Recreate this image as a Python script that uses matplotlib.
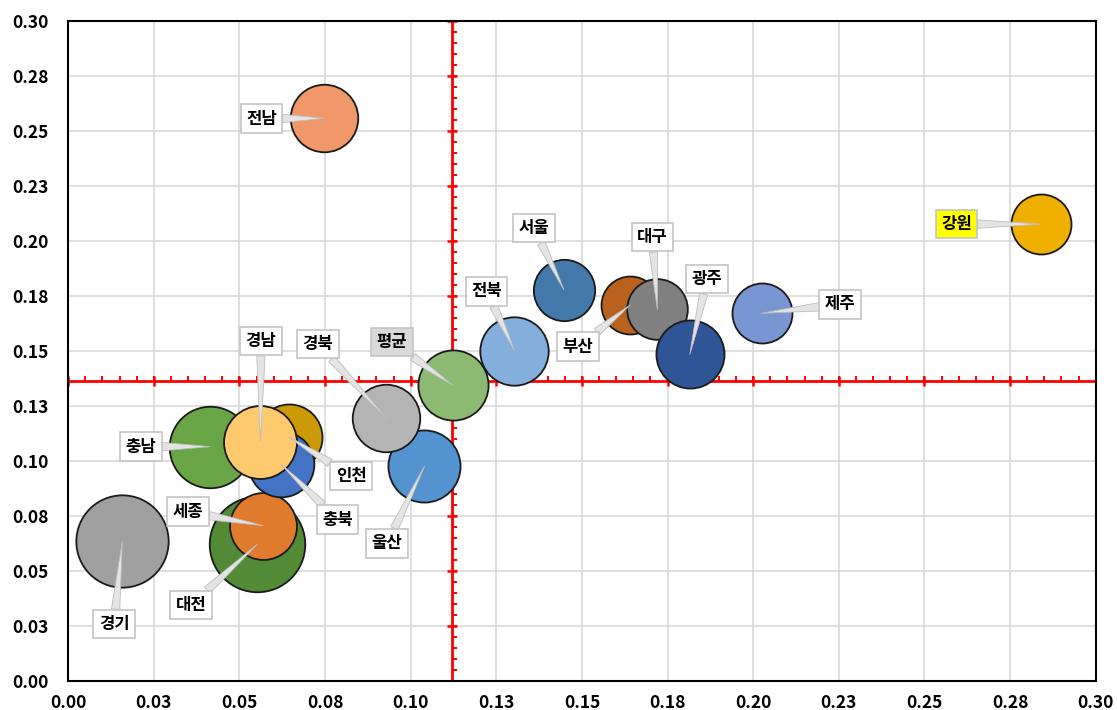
import numpy as np
import matplotlib
matplotlib.use("Agg")
import matplotlib.pyplot as plt

plt.rcParams['font.family'] = ['Noto Sans CJK KR', 'DejaVu Sans']

# Regions: x value, y value, bubble size (area units)
regions = ['경기', '대전', '세종', '충남', '인천', '충북', '경남', '울산', '경북',
           '평균', '전북', '서울', '부산', '대구', '광주', '제주', '전남', '강원']
x_vals = [0.0158, 0.0552, 0.0569, 0.0414, 0.0644, 0.0622, 0.0561, 0.1040, 0.0928,
          0.1122, 0.1303, 0.1447, 0.1640, 0.1720, 0.1815, 0.2025, 0.0747, 0.2840]
y_vals = [0.0637, 0.0621, 0.0706, 0.1065, 0.1109, 0.0984, 0.1087, 0.0976, 0.1195,
          0.1344, 0.1501, 0.1778, 0.1707, 0.1689, 0.1484, 0.1671, 0.2557, 0.2076]
sizes = [21.3, 22.8, 11.2, 16.6, 10.9, 10.8, 13.3, 13.0, 11.4,
         12.3, 11.7, 9.4, 8.4, 9.2, 11.6, 9.0, 11.4, 9.0]

# Average reference lines
avg_x = 0.1120
avg_y = 0.1363

tick_vals = [0.0, 0.025, 0.05, 0.075, 0.10, 0.125, 0.15, 0.175, 0.20, 0.225, 0.25, 0.275, 0.30]
tick_labels = ["0.00", "0.03", "0.05", "0.08", "0.10", "0.13", "0.15",
               "0.18", "0.20", "0.23", "0.25", "0.28", "0.30"]

colors = ['#A0A0A0', '#528A36', '#E07B2E', '#6AA545', '#CC9A06', '#4472C4', '#FFC96D',
          '#5393CF', '#B4B4B4', '#8DBA72', '#84AEDC', '#4379AA', '#B9621F', '#808080',
          '#2F5597', '#7A96D2', '#F0986A', '#F0B000']

# label box centres (data coordinates)
label_pos = {
    '경기': (0.0134, 0.0259), '대전': (0.0358, 0.0345), '세종': (0.0350, 0.0769),
    '충남': (0.0213, 0.1065), '인천': (0.0826, 0.0931), '충북': (0.0787, 0.0733),
    '경남': (0.0563, 0.1545), '울산': (0.0931, 0.0626), '경북': (0.0729, 0.1531),
    '평균': (0.0945, 0.1540), '전북': (0.1222, 0.1771), '서울': (0.1360, 0.2058),
    '부산': (0.1489, 0.1519), '대구': (0.1706, 0.2017), '광주': (0.1865, 0.1826),
    '제주': (0.2254, 0.1711), '전남': (0.0564, 0.2555), '강원': (0.2594, 0.2076),
}
box_fill = {'평균': '#D9D9D9', '강원': '#FFFF00'}

fig = plt.figure(figsize=(11.17, 7.10), dpi=100)
ax = fig.add_axes([0.0611, 0.0408, 0.9198, 0.930])
ax.set_xlim(0, 0.30)
ax.set_ylim(0, 0.30)
ax.set_axisbelow(True)
ax.grid(True, color='#D9D9D9', lw=1.2)

ax.set_xticks(tick_vals)
ax.set_xticklabels(tick_labels)
ax.set_yticks(tick_vals)
ax.set_yticklabels(tick_labels)
ax.tick_params(axis='both', length=0, labelsize=12.5)
ax.tick_params(axis='x', pad=9)
ax.tick_params(axis='y', pad=14)
for lab in ax.get_xticklabels() + ax.get_yticklabels():
    lab.set_fontweight('bold')
for sp in ax.spines.values():
    sp.set_color('black')
    sp.set_linewidth(1.5)

# average lines with tick marks
ax.axhline(avg_y, color='red', lw=2, zorder=1)
ax.axvline(avg_x, color='red', lw=2, zorder=1)
minor = np.arange(0, 0.3001, 0.005)
major = np.array(tick_vals)
ax.plot(minor, np.full_like(minor, avg_y), ls='none', marker=2, ms=3.5, mew=1.4,
        color='red', zorder=1)
ax.plot(major, np.full_like(major, avg_y), ls='none', marker='|', ms=7, mew=1.8,
        color='red', zorder=1)
ax.plot(np.full_like(minor, avg_x), minor, ls='none', marker=1, ms=3.5, mew=1.4,
        color='red', zorder=1)
ax.plot(np.full_like(major, avg_x), major, ls='none', marker='_', ms=7, mew=1.8,
        color='red', zorder=1)

# bubbles
for i, name in enumerate(regions):
    ax.scatter(x_vals[i], y_vals[i], s=sizes[i] * 207.4, color=colors[i],
               edgecolors='#1A1A1A', linewidths=1.3, zorder=2 + i * 0.01)

# callout labels
for i, name in enumerate(regions):
    lx, ly = label_pos[name]
    ax.annotate(name, xy=(x_vals[i], y_vals[i]), xytext=(lx, ly),
                ha='center', va='center', fontsize=12, fontweight='bold',
                color='black', zorder=10,
                bbox=dict(boxstyle='square,pad=0.32', fc=box_fill.get(name, 'white'),
                          ec='#C4C4C4', lw=1.2),
                arrowprops=dict(arrowstyle='wedge,tail_width=0.5,shrink_factor=0.5',
                                fc='#E4E4E4', ec='#BDBDBD', lw=0.6,
                                shrinkA=0, shrinkB=0))

fig.savefig('out.png', dpi=100)
